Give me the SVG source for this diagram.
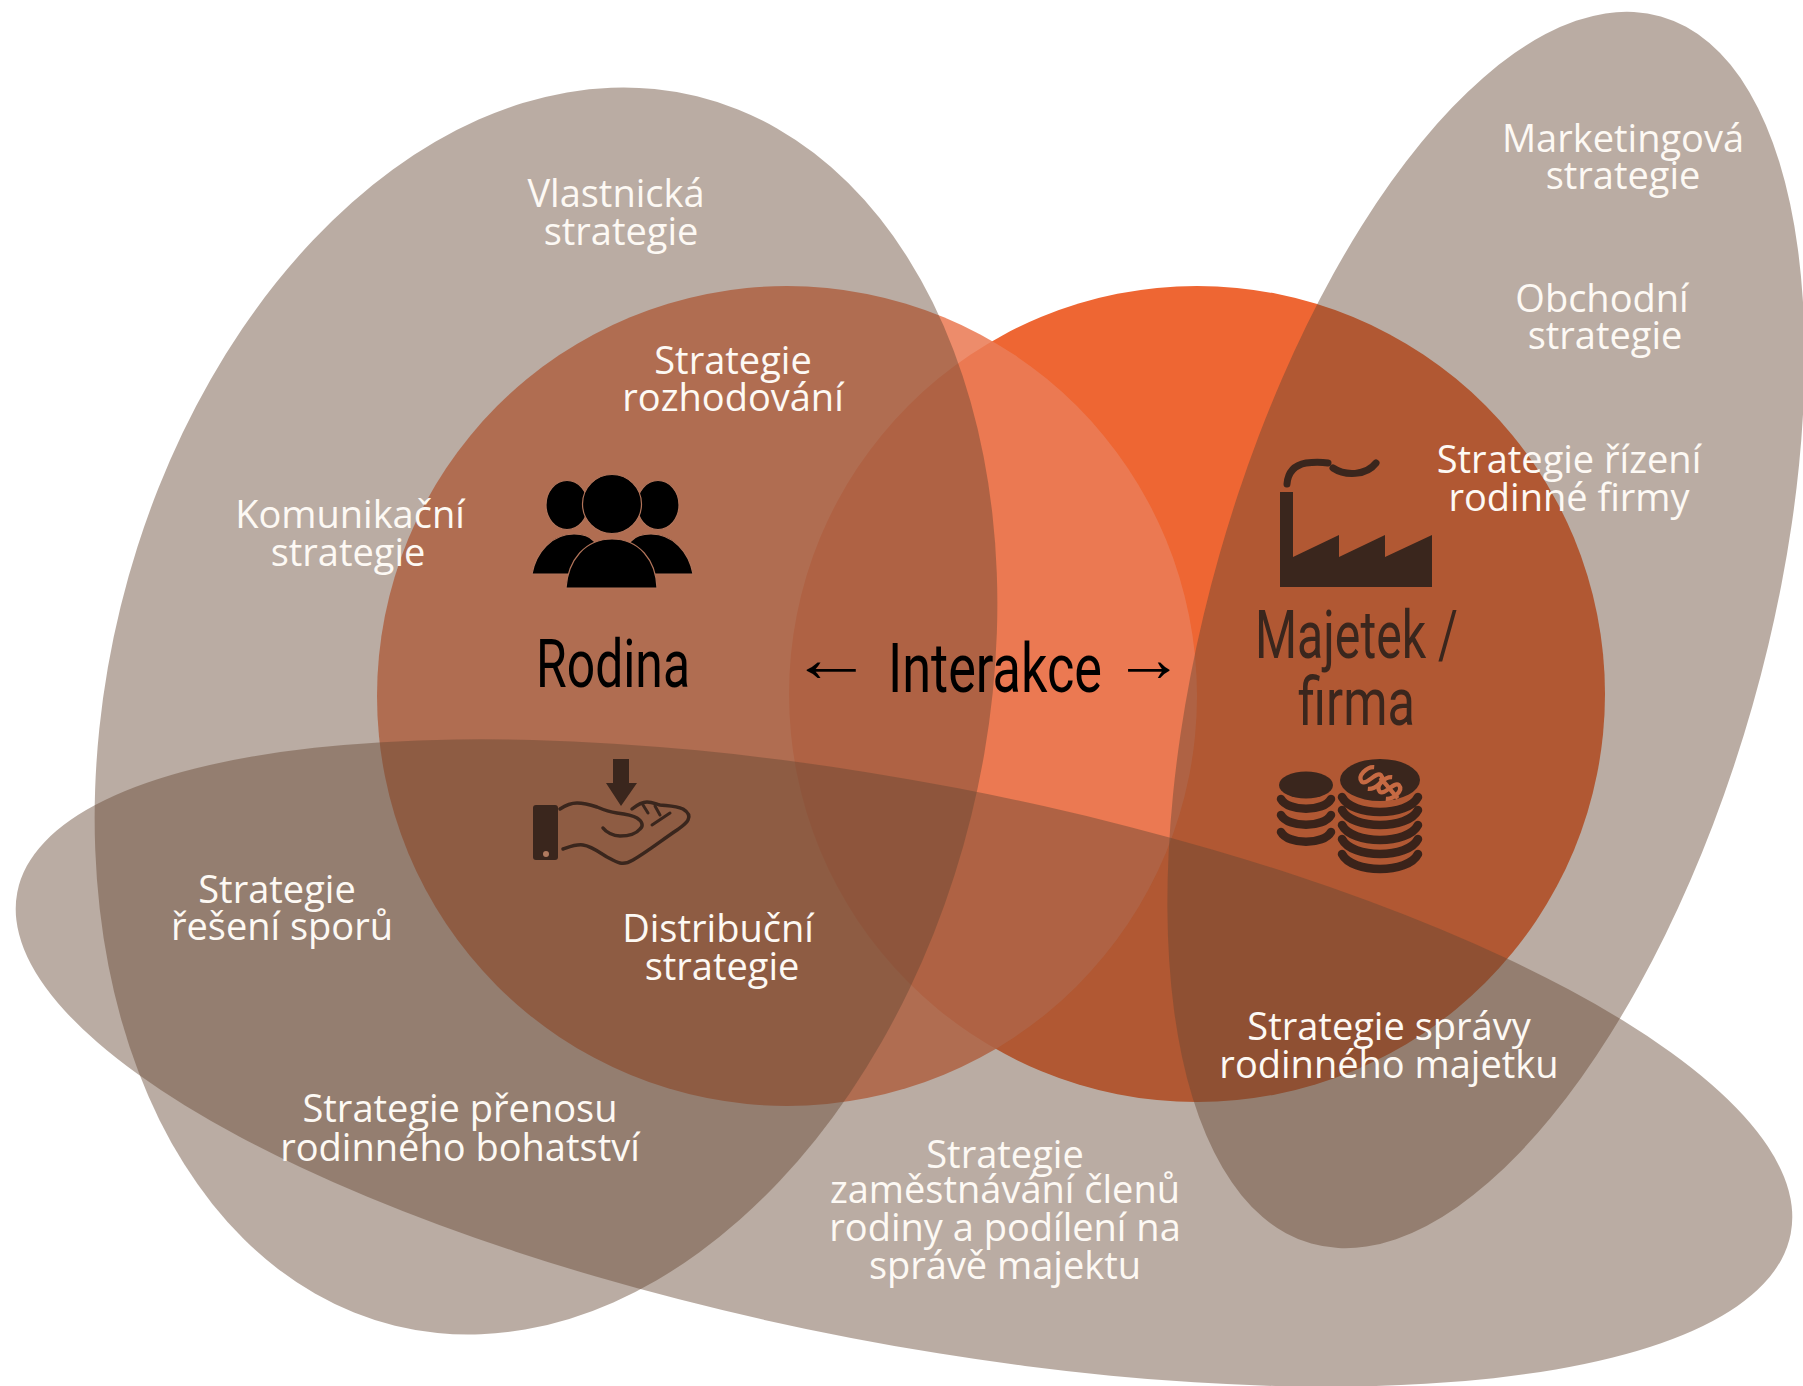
<svg xmlns="http://www.w3.org/2000/svg" width="1803" height="1386" viewBox="0 0 1803 1386">
<style>
.blob{fill:#664833;fill-opacity:.45}
.s{font-family:"Open Sans","Noto Sans",sans-serif;font-size:38px;fill:#fdf9f4;text-anchor:middle}
.t{font-family:Roboto,"Liberation Sans",sans-serif;font-size:66px}
.ic{fill:#3a261d}
.ln{fill:none;stroke:#3a261d;stroke-linecap:round;stroke-linejoin:round}
.cr{fill:none;stroke:#3a231a;stroke-width:8.5;stroke-linecap:round}
</style>
<rect width="1803" height="1386" fill="#fff"/>
<g id="circle-firma"><circle cx="1197" cy="694" r="408" fill="#ee6633"/></g>
<g id="circle-rodina"><circle cx="787" cy="696" r="410" fill="#ea7c56" fill-opacity=".88"/></g>
<g id="ellipse-left"><ellipse class="blob" cx="546" cy="711" rx="438" ry="633" transform="rotate(13.8 546 711)"/></g>
<g id="ellipse-right"><ellipse class="blob" cx="1486" cy="630" rx="277" ry="638" transform="rotate(15.9 1486 630)"/></g>
<g id="ellipse-bottom"><ellipse class="blob" cx="904" cy="1063" rx="903" ry="280" transform="rotate(10.9 904 1063)"/></g>

<g id="rodina">
<g id="icon-people" fill="#000" stroke="#b2745a" stroke-width="1.2">
<path d="M532 574C536 552 552 534 574 534C590 534 602 540 604 574Z"/>
<path d="M693 574C689 552 673 534 651 534C635 534 623 540 621 574Z"/>
<ellipse cx="567" cy="505" rx="21" ry="24.500"/>
<ellipse cx="658" cy="505" rx="21" ry="24.500"/>
<path d="M566 588C568 560 585 539 612 539C639 539 656 560 657 588Z"/>
<circle cx="612" cy="504" r="29.500"/>
</g>
<text class="t" x="536" y="687" textLength="154" lengthAdjust="spacingAndGlyphs">Rodina</text>
<g id="icon-hand">
<path class="ic" d="M613 759H629V783H637L621 806L606 783H613Z"/>
<rect class="ic" x="533" y="805" width="25" height="55" rx="3"/>
<circle cx="546" cy="854" r="3" fill="#b07a5f"/>
<path class="ln" stroke-width="3.500" d="M560 809C566 805 571 803 577 803C585 803 591 805 597 807C604 810 610 812 617 813C625 814 632 815 637 818C642 821 644 826 640 829C636 834 628 836 620 836C613 836 606 832 603 828"/>
<path class="ln" stroke-width="3.500" d="M632 809C637 805 642 802 647 802C652 802 656 804 660 805C668 806 676 806 683 809C688 812 690 816 688 820C686 824 681 827 677 830C662 840 647 852 633 860C628 863 624 864 620 863C615 862 611 859 607 857C599 852 591 846 583 845C576 844 569 847 563 849"/>
<path class="ln" stroke-width="3" d="M643 805L648 813M655 806L660 815M652 825L670 813"/>
</g>
</g>

<g id="interakce">
<text class="t" y="692"><tspan x="790" dy="-11" textLength="83" lengthAdjust="spacingAndGlyphs" font-family="Liberation Sans">←</tspan><tspan x="888" dy="11" font-size="68" textLength="214" lengthAdjust="spacingAndGlyphs">Interakce</tspan><tspan x="1114" dy="-11" textLength="70" lengthAdjust="spacingAndGlyphs" font-family="Liberation Sans">→</tspan></text>
</g>

<g id="majetek">
<g id="icon-factory">
<path class="ic" d="M1280 492H1293V557L1339 535V557L1385 535V557L1432 535V587H1280Z"/>
<path class="ln" stroke-width="7" stroke-linecap="butt" d="M1287 484C1288 472 1295 465 1306 463C1314 462 1321 462 1328 463" fill="none"/>
<path class="ln" stroke-width="7" d="M1333 468C1345 476 1366 476 1376 463" fill="none"/>
</g>
<text class="t" x="1255" y="658" textLength="203" lengthAdjust="spacingAndGlyphs" fill="#3a261d">Majetek /</text>
<text class="t" x="1298" y="725" textLength="117" lengthAdjust="spacingAndGlyphs" fill="#3a261d">firma</text>
<g id="icon-coins">
<ellipse class="ic" cx="1306" cy="785" rx="27" ry="13.500"/>
<path class="cr" d="M1281 799C1288 812 1324 812 1331 799M1281 815C1288 828 1324 828 1331 815M1281 832C1288 845 1324 845 1331 832"/>
<ellipse class="ic" cx="1380" cy="780" rx="40" ry="21"/>
<path class="cr" d="M1342 797C1352 817 1408 817 1418 797M1342 810C1352 830 1408 830 1418 810M1342 825C1352 845 1408 845 1418 825M1342 839C1352 859 1408 859 1418 839M1342 854C1352 874 1408 874 1418 854"/>
<g fill="none" stroke="#c66a43" stroke-width="4">
<path transform="translate(1371 778) rotate(-40) scale(1.050)" d="M9 -6C4 -11 -9 -10 -9 -3C-8 3 8 -2 9 4C9 11 -4 11 -9 6"/>
<path transform="translate(1389 788) rotate(-40) scale(1.050)" d="M9 -6C4 -11 -9 -10 -9 -3C-8 3 8 -2 9 4C9 11 -4 11 -9 6M0 -13V13"/>
</g>
</g>
</g>

<g id="labels">
<text class="s" x="616" y="207">Vlastnická</text><text class="s" x="621" y="245">strategie</text>
<text class="s" x="1623" y="152">Marketingová</text><text class="s" x="1623" y="189">strategie</text>
<text class="s" x="1602" y="312">Obchodní</text><text class="s" x="1605" y="349">strategie</text>
<text class="s" x="1569" y="473">Strategie řízení</text><text class="s" x="1569" y="511">rodinné firmy</text>
<text class="s" x="733" y="374">Strategie</text><text class="s" x="733" y="411">rozhodování</text>
<text class="s" x="350" y="528">Komunikační</text><text class="s" x="348" y="566">strategie</text>
<text class="s" x="277" y="903">Strategie</text><text class="s" x="282" y="940">řešení sporů</text>
<text class="s" x="718" y="942">Distribuční</text><text class="s" x="722" y="980">strategie</text>
<text class="s" x="460" y="1122">Strategie přenosu</text><text class="s" x="460" y="1161">rodinného bohatství</text>
<text class="s" x="1389" y="1040">Strategie správy</text><text class="s" x="1389" y="1078">rodinného majetku</text>
<text class="s" x="1005" y="1168">Strategie</text><text class="s" x="1005" y="1203">zaměstnávání členů</text><text class="s" x="1005" y="1241">rodiny a podílení na</text><text class="s" x="1005" y="1279">správě majektu</text>
</g>
</svg>
